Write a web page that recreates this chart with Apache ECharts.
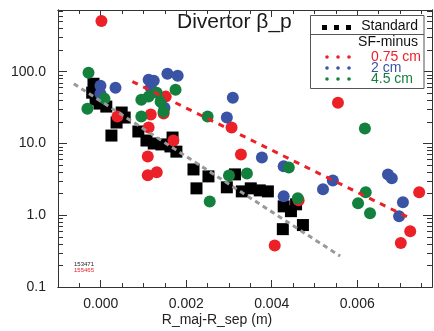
<!DOCTYPE html>
<html>
<head>
<meta charset="utf-8">
<script src="https://cdn.jsdelivr.net/npm/echarts@6/dist/echarts.min.js"></script>
<style>
  html, body { margin: 0; padding: 0; background: #fff; }
  #main { width: 434px; height: 331px; }
</style>
</head>
<body>
<div id="main"></div>
<script>
// ---- data ----
const stdX = [-0.00017, -0.0002, -0.00012, -0.00003, 0.00013, 0.00049, 0.00037, 0.00025, 0.00056, 0.00088,
  0.00107, 0.00124, 0.00142, 0.00168, 0.00163, 0.00177, 0.00217, 0.00224, 0.00252, 0.00295,
  0.00314, 0.0033, 0.00351, 0.00372, 0.00391, 0.00428, 0.00457, 0.00426, 0.00473, 0.00445];
const stdY = [68, 51, 41, 36, 32.7, 27, 19.6, 12.9, 23, 14.7,
  11, 10, 9.7, 12.1, 9.1, 7.7, 4.35, 2.37, 3.48, 2.45,
  3.71, 2.15, 2.37, 2.22, 2.15, 1.33, 1.42, 0.64, 0.73, 1.14];

const redX = [0.000016, 0.00039, 0.00112, 0.00117, 0.00147, 0.00152, 0.0017, 0.0011, 0.0011, 0.00131,
  0.00306, 0.00328, 0.00463, 0.00407, 0.00555, 0.00745, 0.00724, 0.00702];
const redY = [511, 23.7, 16.7, 25.3, 26.1, 45, 11, 6.6, 3.6, 3.96,
  16.7, 7.03, 1.62, 0.38, 37.1, 2.09, 0.6, 0.41];

const blueX = [-0.000007, -0.000007, 0.000345, 0.00112, 0.00124, 0.00117, 0.00156, 0.0018, 0.00149, 0.00309,
  0.00295, 0.00377, 0.00428, 0.00428, 0.0052, 0.00543, 0.00672, 0.00681, 0.00707, 0.00698];
const blueY = [63.9, 49.5, 59.9, 77.4, 75, 59.9, 93.8, 88, 31.6, 43.5,
  23, 6.39, 4.8, 1.84, 2.3, 3.06, 3.71, 3.27, 1.52, 0.97];

const greenX = [-0.000286, -0.000312, 0.000087, 0.00095, 0.00095, 0.00112, 0.00131, 0.0014, 0.00147, 0.00175,
  0.0025, 0.00255, 0.003, 0.00342, 0.0044, 0.00461, 0.00618, 0.0062, 0.00602, 0.0063];
const greenY = [96.8, 30.6, 42.2, 23.7, 40.8, 45, 51.1, 38.3, 27.8, 56.2,
  23.7, 1.56, 3.59, 3.83, 4.64, 1.72, 16.2, 2.09, 1.47, 1.07];

// fitted trend lines (end points)
const fitStdX = [-0.00063, 0.0056];
const fitStdY = [68, 0.27];
const fitRedX = [0.00074, 0.00725];
const fitRedY = [73, 0.9];

// axes
const xMin = -0.001, xMax = 0.00775;
const yMin = 0.1, yMax = 725;
const xMajor = [0, 0.002, 0.004, 0.006];
const xMinor = [-0.0005, 0.0005, 0.001, 0.0015, 0.0025, 0.003, 0.0035, 0.0045, 0.005, 0.0055, 0.0065, 0.007, 0.0075];
const yMajor = [0.1, 1, 10, 100];
const yMinor = [0.2, 0.3, 0.4, 0.5, 0.6, 0.7, 0.8, 0.9, 2, 3, 4, 5, 6, 7, 8, 9,
  20, 30, 40, 50, 60, 70, 80, 90, 200, 300, 400, 500, 600, 700];

const RED = '#ec2027', BLUE = '#3a53a4', GREEN = '#14803d';
const FONT = "'Liberation Sans', Arial, Helvetica, sans-serif";

function zip(xs, ys) {
  return xs.map((x, i) => [x, ys[i]]);
}

function xAxisDef(pos, ticks, len, labels) {
  return {
    type: 'value', position: pos, min: xMin, max: xMax,
    axisLine: { show: true, onZero: false, lineStyle: { color: '#333', width: 1 } },
    axisTick: { show: true, inside: true, length: len, customValues: ticks, lineStyle: { color: '#333' } },
    axisLabel: {
      show: labels, customValues: ticks, margin: 10,
      color: '#222', fontSize: 14, fontFamily: FONT,
      formatter: v => v.toFixed(3)
    },
    splitLine: { show: false }
  };
}

function yAxisDef(pos, ticks, len, labels) {
  return {
    type: 'log', position: pos, min: yMin, max: yMax, logBase: 10,
    axisLine: { show: true, onZero: false, lineStyle: { color: '#333', width: 1 } },
    axisTick: { show: true, inside: true, length: len, customValues: ticks, lineStyle: { color: '#333' } },
    axisLabel: {
      show: labels, customValues: ticks, margin: 12,
      color: '#222', fontSize: 14, fontFamily: FONT,
      formatter: v => (+v).toFixed(1)
    },
    splitLine: { show: false },
    minorTick: { show: false }
  };
}

const chart = echarts.init(document.getElementById('main'));

const option = {
  animation: false,
  backgroundColor: '#fff',
  grid: { left: 58, right: 2, top: 10, bottom: 44, containLabel: false, outerBoundsMode: 'none' },
  xAxis: [
    xAxisDef('bottom', xMajor, 7, true),
    xAxisDef('bottom', xMinor, 4, false),
    xAxisDef('top', xMajor, 7, false),
    xAxisDef('top', xMinor, 4, false)
  ],
  yAxis: [
    yAxisDef('left', yMajor, 9, true),
    yAxisDef('left', yMinor, 5, false),
    yAxisDef('right', yMajor, 9, false),
    yAxisDef('right', yMinor, 5, false)
  ],
  graphic: [
    // title
    {
      type: 'text', left: 177, top: 12,
      style: { text: 'Divertor β_p', font: '21px ' + FONT, fill: '#1a1a1a' }
    },
    // legend box
    {
      type: 'rect', z: 100,
      shape: { x: 310.5, y: 15.5, width: 113.5, height: 73 },
      style: { fill: '#fff', stroke: '#555', lineWidth: 1 }
    },
    {
      type: 'line', z: 101,
      shape: { x1: 310.5, y1: 34.5, x2: 424, y2: 34.5 },
      style: { stroke: '#555', lineWidth: 1 }
    },
    { type: 'rect', z: 101, shape: { x: 322, y: 25, width: 5, height: 5 }, style: { fill: '#000' } },
    { type: 'rect', z: 101, shape: { x: 334, y: 25, width: 5, height: 5 }, style: { fill: '#000' } },
    { type: 'rect', z: 101, shape: { x: 346, y: 25, width: 5, height: 5 }, style: { fill: '#000' } },
    {
      type: 'text', z: 101, x: 418, y: 26,
      style: { text: 'Standard', font: '14px ' + FONT, fill: '#111', align: 'right', verticalAlign: 'middle' }
    },
    {
      type: 'text', z: 101, x: 418, y: 42,
      style: { text: 'SF-minus', font: '14px ' + FONT, fill: '#111', align: 'right', verticalAlign: 'middle' }
    },
    { type: 'circle', z: 101, shape: { cx: 327, cy: 57, r: 1.8 }, style: { fill: RED } },
    { type: 'circle', z: 101, shape: { cx: 338, cy: 57, r: 1.8 }, style: { fill: RED } },
    { type: 'circle', z: 101, shape: { cx: 349, cy: 57, r: 1.8 }, style: { fill: RED } },
    { type: 'circle', z: 101, shape: { cx: 327, cy: 68, r: 1.8 }, style: { fill: BLUE } },
    { type: 'circle', z: 101, shape: { cx: 338, cy: 68, r: 1.8 }, style: { fill: BLUE } },
    { type: 'circle', z: 101, shape: { cx: 349, cy: 68, r: 1.8 }, style: { fill: BLUE } },
    { type: 'circle', z: 101, shape: { cx: 327, cy: 79, r: 1.8 }, style: { fill: GREEN } },
    { type: 'circle', z: 101, shape: { cx: 338, cy: 79, r: 1.8 }, style: { fill: GREEN } },
    { type: 'circle', z: 101, shape: { cx: 349, cy: 79, r: 1.8 }, style: { fill: GREEN } },
    {
      type: 'text', z: 101, x: 371, y: 57,
      style: { text: '0.75 cm', font: '14px ' + FONT, fill: RED, verticalAlign: 'middle' }
    },
    {
      type: 'text', z: 101, x: 371, y: 68,
      style: { text: '2 cm', font: '14px ' + FONT, fill: BLUE, verticalAlign: 'middle' }
    },
    {
      type: 'text', z: 101, x: 371, y: 79,
      style: { text: '4.5 cm', font: '14px ' + FONT, fill: GREEN, verticalAlign: 'middle' }
    },
    // shot numbers
    {
      type: 'text', x: 74, y: 264,
      style: { text: '153471', font: '6px ' + FONT, fill: '#222', verticalAlign: 'middle' }
    },
    {
      type: 'text', x: 74, y: 270,
      style: { text: '155465', font: '6px ' + FONT, fill: RED, verticalAlign: 'middle' }
    },
    // x axis name
    {
      type: 'text', x: 217, y: 320,
      style: { text: 'R_maj-R_sep (m)', font: '14px ' + FONT, fill: '#222', align: 'center', verticalAlign: 'middle' }
    }
  ],
  series: [
    {
      name: 'Standard', type: 'scatter', symbol: 'rect', symbolSize: 12,
      itemStyle: { color: '#000', opacity: 1 }, data: zip(stdX, stdY), z: 2
    },
    {
      name: '0.75 cm', type: 'scatter', symbol: 'circle', symbolSize: 12,
      itemStyle: { color: RED, opacity: 1 }, data: zip(redX, redY), z: 3
    },
    {
      name: '2 cm', type: 'scatter', symbol: 'circle', symbolSize: 12,
      itemStyle: { color: BLUE, opacity: 1 }, data: zip(blueX, blueY), z: 4
    },
    {
      name: '4.5 cm', type: 'scatter', symbol: 'circle', symbolSize: 12,
      itemStyle: { color: GREEN, opacity: 1 }, data: zip(greenX, greenY), z: 5
    },
    {
      type: 'line', showSymbol: false, symbol: 'none', z: 6,
      lineStyle: { color: '#999', width: 3, type: [5, 4] },
      data: zip(fitStdX, fitStdY)
    },
    {
      type: 'line', showSymbol: false, symbol: 'none', z: 6,
      lineStyle: { color: RED, width: 3, type: [6, 6] },
      data: zip(fitRedX, fitRedY)
    }
  ]
};

chart.setOption(option);
</script>
</body>
</html>
